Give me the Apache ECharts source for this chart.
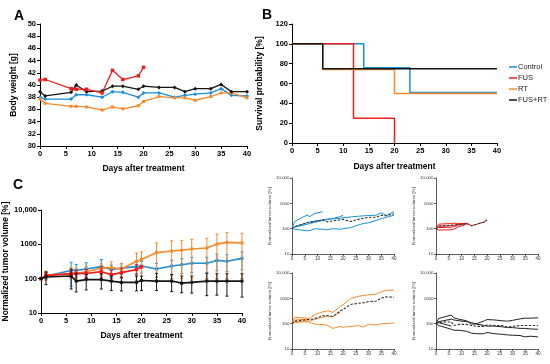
<!DOCTYPE html>
<html><head><meta charset="utf-8">
<script src="https://cdn.jsdelivr.net/npm/echarts@6/dist/echarts.min.js"></script>
<style>html,body{margin:0;background:#fff}#c{width:550px;height:364px}</style>
</head><body><div id="c"></div><script>
// ---------- data ----------
const days = [0,1,6,7,9,12,14,16,19,20,23,26,28,30,33,35,37,40];
const xTicks = [0,5,10,15,20,25,30,35,40];
const logTicks = ['10','100','1000','10,000'];

// Panel A: body weight [g]
const bwControl = [38.0,37.7,37.7,38.4,38.4,38.0,38.9,38.8,38.0,38.7,38.7,38.0,38.3,38.5,38.7,39.4,38.3,38.2];
const bwFUS     = [40.8,40.9,39.4,39.3,39.3,38.7,42.4,40.9,41.5,42.9];
const bwRT      = [37.7,37.0,36.5,36.5,36.4,35.9,36.4,36.1,36.6,37.3,38.1,37.9,37.9,37.5,38.1,38.7,38.7,37.9];
const bwFUSRT   = [38.9,38.2,38.8,40.0,38.9,39.0,39.8,39.8,39.3,39.8,39.6,39.6,38.9,39.4,39.4,40.1,38.9,38.9];

// Panel B: survival probability [%]
const kmControlT = [0,14,23,40], kmControlS = [100,76,51,51];
const kmFUST     = [0,12,20],    kmFUSS     = [100,25,0];
const kmRTT      = [0,6,20,40],  kmRTS      = [100,74,50,50];
const kmFUSRTT   = [0,6,40],     kmFUSRTS   = [100,75,75];

// Panel C: normalized tumour volume [%] (mean, lower, upper)
const tvControl   = [100,119,174,174,192,224,185,203,224,233,192,233,255,282,282,340,322,390];
const tvControlLo = [100,95,60,90,110,130,110,130,140,145,110,130,140,150,150,170,160,180];
const tvControlHi = [100,150,300,260,290,360,250,270,300,320,280,340,380,420,420,520,500,600];
const tvFUS       = [100,125,138,140,142,160,131,150,185,220];
const tvFUSLo     = [100,105,110,110,110,110,100,105,130,220];
const tvFUSHi     = [100,150,170,175,180,220,180,200,260,220];
const tvRT        = [100,125,144,144,158,203,211,192,322,360,575,640,670,735,780,1015,1140,1100];
const tvRTLo      = [100,90,100,100,100,130,120,110,90,90,110,100,100,100,100,100,100,100];
const tvRTHi      = [100,165,210,200,230,270,310,280,560,600,1100,1270,1300,1400,1500,2000,2200,2100];
const tvFUSRT     = [100,112,119,85,94,94,85,78,78,88,85,85,74,78,85,85,85,85];
const tvFUSRTLo   = [100,67,50,41,47,50,45,44,44,45,45,42,39,38,32,33,31,29];
const tvFUSRTHi   = [100,158,190,143,131,139,119,110,119,119,143,131,119,119,143,139,139,139];

// Small panels: individual animals
const ctrl1 = [100,190,350,300,400,470];
const ctrl2 = [100,115,150,160,180,210,230,250,300,340];
const ctrl3 = [100,95,82,85,100,95,92,100,95,100,110,140,160,170,210,250,280,340];
const ctrl4 = [100,120,170,185,200,220,240,245,260,270,290,310,320,330,340,420,330,470];
const fus1 = [100,150,160,165,160,160];
const fus2 = [100,125,130,135,150,165];
const fus3 = [100,88,90,95,120,150];
const fus4 = [100,110,115,120,140,160,131,150,185,220];
const rt1 = [100,180,165,160,230,290,320,280,480,560,1000,1200,1300,1370,1480,1800,2100,2100];
const rt2 = [100,140,150];
const rt3 = [100,115,120,125,150,180,200,190,290];
const rt4 = [100,110,130,110,95,92,85,65,78,72,78,84,74,95,88,100,100,108];
const fr1 = [100,160,220,170,150,130,95,100,130,145,140,130,125,135,155,165,165,170];
const fr2 = [100,120,150,140,130,120,110,95,85,80,80,75,70,70,65,65,62,60];
const fr3 = [100,85,60,55,55,50,42,40,40,45,40,38,36,35,34,30,32,30];
const fr4 = [100,110,80];

// ---------- styling ----------
const BLUE='#1b8fd9', RED='#f21c1c', ORANGE='#f78a2c', BLACK='#141414';
const FONT='Liberation Sans, Arial, sans-serif';
const pairs = (t, v) => v.map((y, i) => [t[i], y]);

function xAx(g, big, name, gap){
  return {type:'value', gridIndex:g, min:0, max:40, interval:5,
    axisLine:{show:true, onZero:false, lineStyle:{color: big?'#000':'#333', width: big?1:0.8}},
    axisTick:{show:true, inside:false, length: big?3:2, lineStyle:{color: big?'#000':'#333', width: big?1:0.8}},
    axisLabel:{fontSize: big?7.5:4.6, fontWeight: big?'bold':'normal', color: big?'#000':'#333', margin: big?4:2.5, fontFamily:FONT,
      formatter: v => xTicks.includes(v) ? String(v) : ''},
    splitLine:{show:false},
    name: name||'', nameLocation:'middle', nameGap: gap||0,
    nameTextStyle:{fontSize:8.5, fontWeight:'bold', color:'#000', fontFamily:FONT}};
}
function yLin(g, min, max, interval, name, gap){
  return {type:'value', gridIndex:g, min, max, interval,
    axisLine:{show:true, lineStyle:{color:'#000', width:1}},
    axisTick:{show:true, inside:false, length:3, lineStyle:{color:'#000'}},
    axisLabel:{fontSize:7.5, fontWeight:'bold', color:'#000', margin:4, fontFamily:FONT},
    splitLine:{show:false},
    name, nameLocation:'middle', nameGap:gap,
    nameTextStyle:{fontSize:8.5, fontWeight:'bold', color:'#000', fontFamily:FONT}};
}
function yLog(g, big, gap){
  return {type:'log', logBase:10, gridIndex:g, min:10, max:10000,
    axisLine:{show:true, lineStyle:{color: big?'#000':'#333', width: big?1:0.8}},
    axisTick:{show:true, inside:false, length: big?3:2, lineStyle:{color: big?'#000':'#333', width: big?1:0.8}},
    axisLabel:{fontSize: big?7.5:4.4, fontWeight: big?'bold':'normal', color: big?'#000':'#333', margin: big?4:2.5, fontFamily:FONT,
      formatter: v => logTicks[Math.round(Math.log10(v)) - 1] || ''},
    minorTick:{show:false}, splitLine:{show:false},
    name:'Normalized tumor volume [%]', nameLocation:'middle', nameGap:gap,
    nameTextStyle:{fontSize: big?8.5:4.4, fontWeight: big?'bold':'normal', color: big?'#000':'#333', fontFamily:FONT}};
}
function line(name, g, data, color, opt){
  return Object.assign({type:'line', name, xAxisIndex:g, yAxisIndex:g, data,
    lineStyle:{color, width:1.3}, itemStyle:{color}, symbol:'none', silent:true}, opt||{});
}
function err(name, color, mean, lo, hi, z){
  return {type:'custom', name, xAxisIndex:2, yAxisIndex:2, silent:true, z,
    data: mean.map((m,i)=>[days[i], lo[i], hi[i]]),
    encode:{x:0, y:[1,2]},
    renderItem:(p, api)=>{
      const x=api.value(0), l=api.value(1), h=api.value(2);
      if (l===h) return {type:'group', children:[]};
      const a=api.coord([x,h]), b=api.coord([x,l]), w=1.5;
      const st={stroke:color, lineWidth:1};
      return {type:'group', children:[
        {type:'line', shape:{x1:a[0],y1:a[1],x2:b[0],y2:b[1]}, style:st},
        {type:'line', shape:{x1:a[0]-w,y1:a[1],x2:a[0]+w,y2:a[1]}, style:st},
        {type:'line', shape:{x1:b[0]-w,y1:b[1],x2:b[0]+w,y2:b[1]}, style:st}]};
    }};
}
const smallLine = (name, g, vals, color) => line(name, g, pairs(days, vals), color, {lineStyle:{color, width:1}, z:2});
const meanLine = (name, g, vals) => line(name, g, pairs(days, vals), '#333', {lineStyle:{color:'#333', width:1.1, type:[2.5,1.5]}, z:3});
const markA = (sym, size) => ({symbol:sym, symbolSize:size, showSymbol:true});

const option = {
  animation:false,
  backgroundColor:'#fff',
  textStyle:{fontFamily:FONT},
  title:[
    {text:'A', left:9, top:4, textStyle:{fontSize:14, fontWeight:'bold', color:'#000', fontFamily:FONT}},
    {text:'B', left:257, top:3, textStyle:{fontSize:14, fontWeight:'bold', color:'#000', fontFamily:FONT}},
    {text:'C', left:8, top:173, textStyle:{fontSize:14, fontWeight:'bold', color:'#000', fontFamily:FONT}}
  ],
  legend:{data:['Control','FUS','RT','FUS+RT'], orient:'vertical', left:504, top:58, icon:'rect',
    itemWidth:8, itemHeight:1.5, itemGap:3,
    textStyle:{fontSize:7.5, color:'#222', fontFamily:FONT, padding:[0,0,0,-4]}},
  grid:[
    {left:40, top:24, width:207, height:122},
    {left:292, top:24, width:205, height:119},
    {left:41, top:210, width:201, height:103},
    {left:292, top:178, width:102, height:76},
    {left:436, top:178, width:102, height:76},
    {left:292, top:273, width:102, height:76},
    {left:436, top:273, width:102, height:76}
  ],
  xAxis:[
    xAx(0,true,'Days after treatment',18),
    xAx(1,true,'Days after treatment',19),
    xAx(2,true,'Days after treatment',18),
    xAx(3,false), xAx(4,false), xAx(5,false), xAx(6,false)
  ],
  yAxis:[
    yLin(0,30,50,2,'Body weight [g]',22),
    yLin(1,0,120,20,'Survival probability [%]',28),
    yLog(2,true,27),
    yLog(3,false,16), yLog(4,false,16), yLog(5,false,16), yLog(6,false,16)
  ],
  series:[
    // A
    line('A Control',0,pairs(days,bwControl),BLUE,markA('diamond',4)),
    line('A RT',0,pairs(days,bwRT),ORANGE,markA('rect',3)),
    line('A FUS+RT',0,pairs(days,bwFUSRT),BLACK,markA('diamond',4)),
    line('A FUS',0,pairs(days,bwFUS),RED,markA('rect',3.5)),
    // B
    line('Control',1,pairs(kmControlT,kmControlS),BLUE,{step:'end', lineStyle:{color:BLUE,width:1.5}}),
    line('FUS',1,pairs(kmFUST,kmFUSS),RED,{step:'end', lineStyle:{color:RED,width:1.5}}),
    line('RT',1,pairs(kmRTT,kmRTS),ORANGE,{step:'end', lineStyle:{color:ORANGE,width:1.5}}),
    line('FUS+RT',1,pairs(kmFUSRTT,kmFUSRTS),BLACK,{step:'end', lineStyle:{color:BLACK,width:1.5}}),
    // C
    err('eC',BLUE,tvControl,tvControlLo,tvControlHi,2),
    line('C Control',2,pairs(days,tvControl),BLUE,Object.assign(markA('rect',3),{lineStyle:{color:BLUE,width:1.6},z:3})),
    err('eR',ORANGE,tvRT,tvRTLo,tvRTHi,4),
    line('C RT',2,pairs(days,tvRT),ORANGE,Object.assign(markA('rect',3),{lineStyle:{color:ORANGE,width:1.6},z:5})),
    err('eF',RED,tvFUS,tvFUSLo,tvFUSHi,6),
    line('C FUS',2,pairs(days,tvFUS),RED,Object.assign(markA('rect',3.5),{lineStyle:{color:RED,width:1.6},z:7})),
    err('eK',BLACK,tvFUSRT,tvFUSRTLo,tvFUSRTHi,8),
    line('C FUS+RT',2,pairs(days,tvFUSRT),BLACK,Object.assign(markA('rect',3),{lineStyle:{color:BLACK,width:1.6},z:9})),
    // small: control
    smallLine('s1',3,ctrl1,BLUE), smallLine('s2',3,ctrl2,BLUE), smallLine('s3',3,ctrl3,BLUE), smallLine('s4',3,ctrl4,BLUE),
    meanLine('m1',3,tvControl),
    // small: FUS
    smallLine('s5',4,fus1,RED), smallLine('s6',4,fus2,RED), smallLine('s7',4,fus3,RED), smallLine('s8',4,fus4,RED),
    meanLine('m2',4,tvFUS),
    // small: RT
    smallLine('s9',5,rt1,ORANGE), smallLine('s10',5,rt2,ORANGE), smallLine('s11',5,rt3,ORANGE), smallLine('s12',5,rt4,ORANGE),
    meanLine('m3',5,tvRT),
    // small: FUS+RT
    smallLine('s13',6,fr1,'#222'), smallLine('s14',6,fr2,'#222'), smallLine('s15',6,fr3,'#222'), smallLine('s16',6,fr4,'#222'),
    meanLine('m4',6,tvFUSRT)
  ]
};
const chart = echarts.init(document.getElementById('c'), null, {renderer:'canvas'});
chart.setOption(option);
</script></body></html>
